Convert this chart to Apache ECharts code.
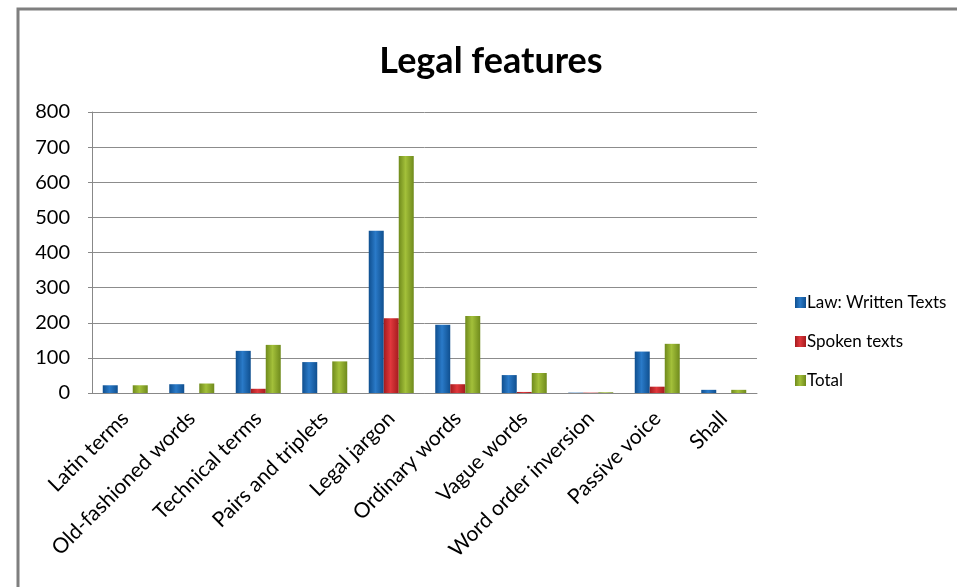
<!DOCTYPE html>
<html>
<head>
<meta charset="utf-8">
<script src="https://cdn.jsdelivr.net/npm/echarts@6/dist/echarts.min.js"></script>
<style>
html,body{margin:0;padding:0;background:#fff;}
#chart{width:957px;height:587px;}
</style>
</head>
<body>
<div id="chart"></div>
<script>
var categories = ['Latin terms','Old-fashioned words','Technical terms','Pairs and triplets','Legal jargon','Ordinary words','Vague words','Word order inversion','Passive voice','Shall'];
var writtenTexts = [22, 25, 120, 88, 462, 194, 51, 1, 118, 9];
var spokenTexts = [0, 0, 12, 0, 213, 25, 3, 1, 18, 0];
var totalTexts = [22, 27, 137, 90, 675, 219, 57, 2, 140, 9];
var yTicks = [0, 100, 200, 300, 400, 500, 600, 700, 800];

var FONT = 'Lato, "Open Sans", sans-serif';
function grad(edge, mid) {
  return new echarts.graphic.LinearGradient(0, 0, 1, 0, [
    {offset: 0, color: edge}, {offset: 0.45, color: mid}, {offset: 1, color: edge}
  ]);
}
var chart = echarts.init(document.getElementById('chart'), null, {renderer: 'canvas'});
chart.setOption({
  animation: false,
  backgroundColor: '#fff',
  title: {
    text: 'Legal features', left: 486, top: 38, textAlign: 'center',
    textStyle: {fontFamily: FONT, fontSize: 36, fontWeight: 'bold', color: '#000'}
  },
  graphic: [{
    type: 'polyline', shape: {points: [[18, 600], [18, 9], [960, 9]]},
    style: {stroke: '#7f7f7f', lineWidth: 3, fill: null}, silent: true
  }],
  legend: {
    orient: 'vertical', left: 790, top: 289, itemGap: 22,
    itemWidth: 11, itemHeight: 11, icon: 'rect',
    textStyle: {fontFamily: FONT, fontSize: 17, color: '#000', padding: [0, 0, 0, -4]},
    data: ['Law: Written Texts', 'Spoken texts', 'Total']
  },
  grid: {left: 92, right: 200, top: 112, bottom: 194, containLabel: false},
  xAxis: {
    type: 'category', data: categories,
    axisLine: {show: true, lineStyle: {color: '#888', width: 1}},
    axisTick: {show: false},
    axisLabel: {rotate: 45, interval: 0, fontFamily: FONT, fontSize: 21, color: '#000', margin: 22}
  },
  yAxis: {
    type: 'value', min: yTicks[0], max: yTicks[yTicks.length - 1], interval: 100,
    axisLine: {show: true, lineStyle: {color: '#888', width: 1}},
    axisTick: {show: true, length: 4, lineStyle: {color: '#888'}},
    axisLabel: {fontFamily: FONT, fontSize: 20, color: '#000', margin: 22},
    splitLine: {lineStyle: {color: '#8c8c8c', width: 1}}
  },
  series: [
    {name: 'Law: Written Texts', type: 'bar', data: writtenTexts, barWidth: 15, barGap: '0%',
      itemStyle: {color: grad('#0f4f8f', '#2a7ac8')}},
    {name: 'Spoken texts', type: 'bar', data: spokenTexts, barWidth: 15,
      itemStyle: {color: grad('#a41b1e', '#e0383c')}},
    {name: 'Total', type: 'bar', data: totalTexts, barWidth: 15,
      itemStyle: {color: grad('#6f8a1c', '#a3c03a')}}
  ]
});
</script>
</body>
</html>
